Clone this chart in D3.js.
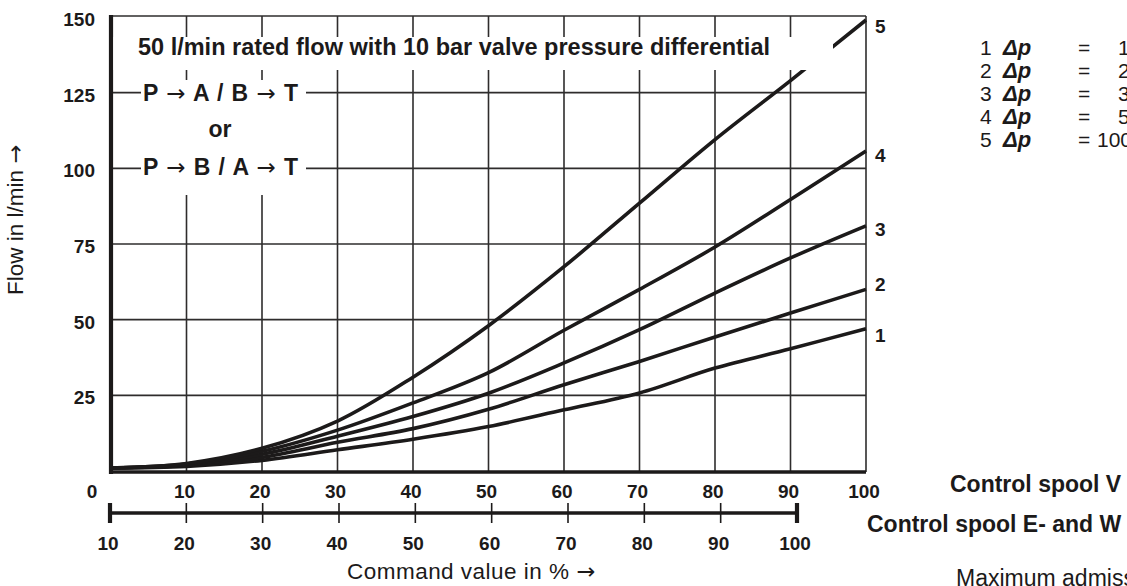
<!DOCTYPE html>
<html>
<head>
<meta charset="utf-8">
<script src="https://cdn.jsdelivr.net/npm/d3@7"></script>
<style>
  html, body { margin: 0; padding: 0; background: #fff; overflow: hidden; }
  svg { display: block; font-family: "Liberation Sans", Arial, Helvetica, sans-serif; }
  .arrow { font-family: "DejaVu Sans", sans-serif; font-weight: normal; }
</style>
</head>
<body>
<svg id="chart" width="1127" height="586"></svg>
<script>
// Command value in % (upper scale, control spool V)
const commandPct = [0, 10, 20, 30, 40, 50, 60, 70, 80, 90, 100];

// Flow in l/min for each valve pressure differential curve
const flowDp10  = [1, 1.5, 3.5, 7, 10.5, 14.7, 20.2, 25.8, 34, 40.4, 47];
const flowDp20  = [1, 1.8, 4.5, 9.5, 14, 20.4, 28.5, 36.2, 44.3, 52.2, 60];
const flowDp30  = [1, 2, 5.5, 11.5, 18, 25.7, 35.7, 46.7, 58.8, 70.4, 81];
const flowDp50  = [1, 2.3, 6.5, 13.5, 22.5, 32.5, 46.5, 60, 74, 89.7, 105.7];
const flowDp100 = [1, 2.5, 7.5, 16.5, 31, 48, 67.5, 88.5, 109.5, 129, 149];

const curveIds = ["1", "2", "3", "4", "5"];
const dpLabels = ["10 bar", "20 bar", "30 bar", "50 bar", "100 bar"];

// Tick values
const flowTicks = [0, 25, 50, 75, 100, 125, 150];
const cmdTicksV = [0, 10, 20, 30, 40, 50, 60, 70, 80, 90, 100];
const cmdTicksEW = [10, 20, 30, 40, 50, 60, 70, 80, 90, 100];

const series = [flowDp10, flowDp20, flowDp30, flowDp50, flowDp100];

const svg = d3.select("#chart");
const ink = "#1c1a1a";
const gridInk = "#2e2c2c";
const ARROW = "\u2192";

const x = d3.scaleLinear().domain([0, 100]).range([111, 866]);
const y = d3.scaleLinear().domain([0, 150]).range([471, 17]);
const x2 = d3.scaleLinear().domain([10, 100]).range([110, 797]);

// Writes a label whose arrows use a font with a full-size arrow glyph
function richText(sel, s) {
  s.split(/(\u2192)/).filter(p => p.length).forEach(p => {
    const ts = sel.append("tspan").text(p);
    if (p === ARROW) ts.attr("class", "arrow");
  });
  return sel;
}

// Grid
const grid = svg.append("g").attr("stroke", gridInk).attr("stroke-width", 1.6);
grid.selectAll("line.v").data(cmdTicksV.filter(d => d > 0 && d < 100)).join("line")
  .attr("x1", d => x(d)).attr("x2", d => x(d))
  .attr("y1", y(0)).attr("y2", y(150) - 1);
grid.selectAll("line.h").data(flowTicks.filter(d => d > 0 && d < 150)).join("line")
  .attr("x1", x(0)).attr("x2", x(100))
  .attr("y1", d => y(d)).attr("y2", d => y(d));
// frame: thin top and right, heavy left and bottom
grid.append("line").attr("x1", x(0)).attr("x2", x(100)).attr("y1", y(150) - 1).attr("y2", y(150) - 1);
grid.append("line").attr("x1", x(100)).attr("x2", x(100)).attr("y1", y(150) - 1).attr("y2", y(0) + 1);

// Curves
const line = d3.line()
  .x((d, i) => x(commandPct[i]))
  .y(d => y(d))
  .curve(d3.curveCatmullRom.alpha(0.5));

svg.append("g").selectAll("path").data(series).join("path")
  .attr("d", d => line(d))
  .attr("fill", "none")
  .attr("stroke", ink)
  .attr("stroke-width", 3.6)
  .attr("stroke-linejoin", "round");

// Heavy axes
svg.append("line").attr("x1", x(0)).attr("x2", x(0)).attr("y1", y(150) - 2).attr("y2", y(0) + 3)
  .attr("stroke", ink).attr("stroke-width", 4.2);
svg.append("line").attr("x1", x(0) - 2).attr("x2", x(100)).attr("y1", y(0) + 1).attr("y2", y(0) + 1)
  .attr("stroke", ink).attr("stroke-width", 3.6);

// White panels behind the annotation text
svg.append("rect").attr("x", x(0) + 2.5).attr("y", 37).attr("width", 833 - x(0) - 2.5).attr("height", 33)
  .attr("fill", "#fff");
svg.append("rect").attr("x", 141).attr("y", 80).attr("width", 165).attr("height", 115)
  .attr("fill", "#fff");

// Annotation text
svg.append("text").attr("x", 138).attr("y", 55)
  .attr("font-size", 23).attr("font-weight", "bold").attr("fill", ink)
  .attr("textLength", 632).attr("lengthAdjust", "spacingAndGlyphs")
  .text("50 l/min rated flow with 10 bar valve pressure differential");

const pathTop = "P \u2192 A / B \u2192 T";
const pathOr = "or";
const pathBottom = "P \u2192 B / A \u2192 T";
richText(svg.append("text").attr("x", 143).attr("y", 101)
  .attr("textLength", 155).attr("lengthAdjust", "spacing")
  .attr("font-size", 23).attr("font-weight", "bold").attr("fill", ink), pathTop);
svg.append("text").attr("x", 220).attr("y", 137).attr("text-anchor", "middle")
  .attr("font-size", 23).attr("font-weight", "bold").attr("fill", ink)
  .text(pathOr);
richText(svg.append("text").attr("x", 143).attr("y", 175)
  .attr("textLength", 155).attr("lengthAdjust", "spacing")
  .attr("font-size", 23).attr("font-weight", "bold").attr("fill", ink), pathBottom);

// Y tick labels
svg.append("g").selectAll("text").data(flowTicks.filter(d => d > 0)).join("text")
  .attr("x", 95).attr("y", d => y(d) + 9)
  .attr("text-anchor", "end")
  .attr("font-size", 19).attr("font-weight", "bold").attr("fill", ink)
  .text(d => d);

// Upper command value tick labels (control spool V)
svg.append("g").selectAll("text").data(cmdTicksV).join("text")
  .attr("x", d => d === 0 ? x(0) - 19 : x(d) - 2)
  .attr("y", 498)
  .attr("text-anchor", "middle")
  .attr("font-size", 19).attr("font-weight", "bold").attr("fill", ink)
  .text(d => d);

// Lower command value scale (control spool E- and W)
const ew = svg.append("g");
ew.append("line").attr("x1", x2(10)).attr("x2", x2(100)).attr("y1", 513).attr("y2", 513)
  .attr("stroke", ink).attr("stroke-width", 3.4);
ew.selectAll("line.t").data(cmdTicksEW).join("line")
  .attr("x1", d => x2(d)).attr("x2", d => x2(d))
  .attr("y1", 503).attr("y2", 523)
  .attr("stroke", ink)
  .attr("stroke-width", d => (d === 10 || d === 100) ? 4.2 : 1.6);
ew.selectAll("text").data(cmdTicksEW).join("text")
  .attr("x", d => x2(d) - 2).attr("y", 550)
  .attr("text-anchor", "middle")
  .attr("font-size", 19).attr("font-weight", "bold").attr("fill", ink)
  .text(d => d);

// Axis titles
richText(svg.append("text").attr("x", 347).attr("y", 579)
  .attr("textLength", 248).attr("lengthAdjust", "spacing")
  .attr("font-size", 22.5).attr("fill", ink), "Command value in % \u2192");
richText(svg.append("text").attr("transform", "translate(23,295) rotate(-90)")
  .attr("font-size", 22.5).attr("fill", ink), "Flow in l/min \u2192");

// Curve numbers at the right end
const endNudge = [6, -5, 3, 4, 6];
svg.append("g").selectAll("text").data(series).join("text")
  .attr("x", 875)
  .attr("y", (d, i) => y(d[d.length - 1]) + endNudge[i] + 7)
  .attr("font-size", 19).attr("font-weight", "bold").attr("fill", ink)
  .text((d, i) => curveIds[i]);

// Legend of pressure differentials
const leg = svg.append("g");
curveIds.forEach((id, i) => {
  const by = 55 + i * 23;
  leg.append("text").attr("x", 980).attr("y", by).attr("font-size", 21).attr("fill", ink).text(id);
  leg.append("text").attr("x", 1003).attr("y", by).attr("font-size", 22)
    .attr("font-weight", "bold").attr("font-style", "italic").attr("fill", ink).text("\u0394p");
  leg.append("text").attr("x", 1078).attr("y", by).attr("font-size", 21).attr("fill", ink).text("=");
  leg.append("text").attr("x", i === 4 ? 1097 : 1118).attr("y", by).attr("font-size", 21)
    .attr("fill", ink).text(dpLabels[i]);
});

// Spool notes
svg.append("text").attr("x", 950).attr("y", 492)
  .attr("font-size", 23).attr("font-weight", "bold").attr("fill", ink).text("Control spool V");
svg.append("text").attr("x", 867).attr("y", 532)
  .attr("font-size", 23).attr("font-weight", "bold").attr("fill", ink).text("Control spool E- and W");
svg.append("text").attr("x", 956).attr("y", 586)
  .attr("font-size", 23).attr("fill", ink).text("Maximum admissible flow");
</script>
</body>
</html>
